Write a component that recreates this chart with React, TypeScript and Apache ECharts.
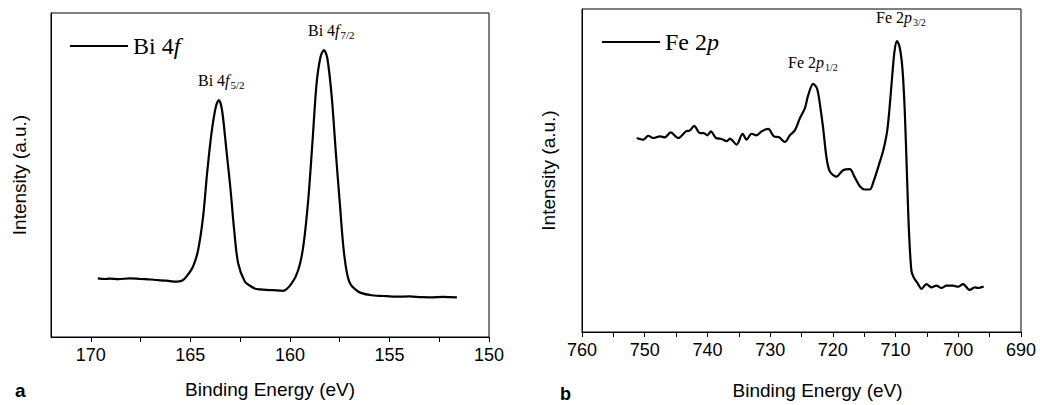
import React, { useEffect, useRef } from "react";
import * as echarts from "echarts";

// Bi 4f spectrum (binding energy in eV, intensity in a.u.)
const BI_ENERGY = [
  169.65, 169.3, 169.06, 168.6, 168.05, 167.5, 167.0, 166.71, 166.2, 165.7, 165.4, 165.2,
  164.87, 164.61, 164.36, 164.16, 163.94, 163.72, 163.57, 163.41, 163.19, 162.98, 162.8,
  162.6, 162.26, 161.95, 161.68, 161.2, 160.84, 160.35, 159.91, 159.58, 159.33, 159.08,
  158.86, 158.66, 158.46, 158.29, 158.12, 157.9, 157.69, 157.48, 157.28, 157.02, 156.56,
  155.98, 155.3, 154.63, 154.0, 153.4, 152.95, 152.3, 151.61,
];
const BI_INTENSITY = [
  58.7, 58.0, 58.3, 57.8, 58.7, 58.0, 57.5, 57.0, 56.3, 55.3, 56.5, 60.3,
  70.3, 87.0, 120.3, 163.7, 203.7, 230.3, 237.0, 227.0, 187.0, 147.0, 107.0,
  73.7, 55.3, 50.5, 48.0, 47.2, 46.8, 46.2, 53.7, 67.0, 90.3, 137.0,
  197.0, 253.7, 280.3, 287.0, 278.7, 240.3, 183.7, 130.3, 83.7, 55.3, 45.3,
  42.0, 41.0, 40.3, 40.6, 39.8, 39.7, 40.2, 39.7,
];

// Fe 2p spectrum
const FE_ENERGY = [
  751.28, 750.23, 749.44, 748.64, 747.57, 746.77, 745.87, 744.66, 743.43, 742.79, 742.11,
  741.2, 740.56, 740.03, 739.45, 738.65, 737.74, 736.94, 736.42, 735.35, 734.39, 733.76,
  732.96, 732.16, 731.37, 730.32, 729.41, 728.56, 727.65, 726.86, 726.06, 725.26, 724.47,
  723.94, 723.15, 722.51, 721.97, 721.55, 721.01, 720.48, 719.42, 718.37, 717.3, 716.5,
  715.7, 714.91, 714.11, 713.47, 712.63, 711.99, 711.35, 710.92, 710.49, 710.13, 709.76,
  709.33, 708.9, 708.53, 708.17, 707.85, 707.47, 707.1, 706.41, 705.87, 705.08, 704.28,
  703.48, 702.69, 701.89, 700.84, 700.04, 699.24, 698.18, 697.38, 696.86, 695.95,
];
const FE_INTENSITY = [
  197.0, 195.3, 199.3, 197.0, 198.7, 197.7, 202.7, 197.0, 203.7, 204.7, 209.3,
  202.0, 202.0, 199.7, 203.7, 197.0, 196.0, 193.7, 196.3, 190.3, 201.3, 195.3,
  201.3, 199.7, 203.7, 206.3, 198.7, 197.7, 193.0, 199.7, 204.7, 217.0, 227.0,
  240.3, 252.0, 247.0, 227.0, 207.0, 177.0, 163.0, 157.7, 164.3, 165.3, 157.0,
  148.0, 144.7, 144.7, 153.7, 170.3, 183.7, 203.7, 230.3, 263.7, 287.0, 295.3,
  288.7, 267.0, 223.7, 157.0, 100.3, 62.0, 55.3, 48.7, 43.7, 48.7, 45.3,
  47.0, 44.7, 47.0, 47.0, 46.0, 48.7, 42.7, 45.3, 44.7, 46.3,
];

// tick labels and tick marks
const BI_TICKS = [150, 155, 160, 165, 170];
const BI_TICK_MARKS = [150, 152.5, 155, 157.5, 160, 162.5, 165, 167.5, 170];
const FE_TICKS = [690, 700, 710, 720, 730, 740, 750, 760];
const FE_TICK_MARKS = [690, 695, 700, 705, 710, 715, 720, 725, 730, 735, 740, 745, 750, 755, 760];

const SANS = "Liberation Sans, Arial, sans-serif";
const SERIF = "Liberation Serif, Times New Roman, serif";

const zip = (xs: number[], ys: number[]) => xs.map((x, i) => [x, ys[i]]);

const serifRich = (size: number, sub: number) => ({
  r: { fontFamily: SERIF, fontSize: size, lineHeight: size + 3, color: "#000" },
  i: { fontFamily: SERIF, fontSize: size, fontStyle: "italic", lineHeight: size + 3, color: "#000" },
  s: {
    fontFamily: SERIF,
    fontSize: sub,
    lineHeight: 8,
    verticalAlign: "bottom",
    color: "#000",
    padding: [0, 0, 0, 1],
  },
});

export default function App() {
  const ref = useRef<HTMLDivElement>(null);
  useEffect(() => {
    if (!ref.current) return;
    const chart = echarts.init(ref.current, null, { renderer: "svg" });

    const xAxisBase = (
      min: number,
      max: number,
      interval: number,
      ticks: number[],
      marks: number[],
      nameShift: number,
      gap: number
    ) => ({
      type: "value",
      min,
      max,
      interval,
      inverse: true,
      name: "Binding Energy (eV)",
      nameLocation: "middle",
      nameGap: gap,
      nameTextStyle: {
        fontFamily: SANS,
        fontSize: 19,
        color: "#000",
        padding: [0, 0, 0, nameShift],
      },
      axisLine: { show: true, lineStyle: { color: "#000", width: 1 } },
      axisTick: { show: true, length: 5, customValues: marks, lineStyle: { color: "#000", width: 1 } },
      axisLabel: {
        fontFamily: SANS,
        fontSize: 18,
        color: "#000",
        margin: 9,
        customValues: ticks,
        formatter: (v: number) => (ticks.includes(v) ? String(v) : ""),
      },
      splitLine: { show: false },
    });

    const yAxisBase = (max: number, gap: number) => ({
      type: "value",
      min: 0,
      max,
      name: "Intensity (a.u.)",
      nameLocation: "middle",
      nameGap: gap,
      nameTextStyle: { fontFamily: SANS, fontSize: 19, color: "#000" },
      axisLine: { show: true, lineStyle: { color: "#000", width: 1 } },
      axisTick: { show: false },
      axisLabel: { show: false },
      splitLine: { show: false },
    });

    chart.setOption({
      animation: false,
      backgroundColor: "#fff",
      grid: [
        { left: 51, top: 13, width: 438, height: 324, show: true, borderColor: "#000", borderWidth: 1 },
        { left: 582, top: 9, width: 439, height: 328, show: true, borderColor: "#000", borderWidth: 1 },
      ],
      xAxis: [
        { ...xAxisBase(150, 172, 2.5, BI_TICKS, BI_TICK_MARKS, 0, 43), gridIndex: 0 },
        { ...xAxisBase(690, 760, 5, FE_TICKS, FE_TICK_MARKS, 32, 49), gridIndex: 1 },
      ],
      yAxis: [
        { ...yAxisBase(324, 22), gridIndex: 0 },
        { ...yAxisBase(328, 24), gridIndex: 1 },
      ],
      legend: [
        {
          data: ["Bi 4f"],
          left: 70,
          top: 34,
          padding: 0,
          icon: "rect",
          itemWidth: 58,
          itemHeight: 2,
          formatter: () => "{r|Bi 4}{i|f}",
          textStyle: { rich: serifRich(24, 14) },
        },
        {
          data: ["Fe 2p"],
          left: 602,
          top: 30,
          padding: 0,
          icon: "rect",
          itemWidth: 58,
          itemHeight: 2,
          formatter: () => "{r|Fe 2}{i|p}",
          textStyle: { rich: serifRich(24, 14) },
        },
      ],
      series: [
        {
          name: "Bi 4f",
          type: "line",
          xAxisIndex: 0,
          yAxisIndex: 0,
          data: zip(BI_ENERGY, BI_INTENSITY),
          smooth: 0.3,
          symbol: "none",
          lineStyle: { color: "#000", width: 2.2 },
          itemStyle: { color: "#000" },
        },
        {
          name: "Fe 2p",
          type: "line",
          xAxisIndex: 1,
          yAxisIndex: 1,
          data: zip(FE_ENERGY, FE_INTENSITY),
          smooth: 0.3,
          symbol: "none",
          lineStyle: { color: "#000", width: 2.2 },
          itemStyle: { color: "#000" },
        },
      ],
      graphic: [
        {
          type: "text",
          x: 198,
          y: 71,
          style: { text: "{r|Bi 4}{i|f}{s|5/2}", rich: serifRich(16, 11), verticalAlign: "top" },
        },
        {
          type: "text",
          x: 308,
          y: 21,
          style: { text: "{r|Bi 4}{i|f}{s|7/2}", rich: serifRich(16, 11), verticalAlign: "top" },
        },
        {
          type: "text",
          x: 788,
          y: 53,
          style: { text: "{r|Fe 2}{i|p}{s|1/2}", rich: serifRich(16, 10), verticalAlign: "top" },
        },
        {
          type: "text",
          x: 876,
          y: 8,
          style: { text: "{r|Fe 2}{i|p}{s|3/2}", rich: serifRich(16, 10), verticalAlign: "top" },
        },
        {
          type: "text",
          x: 15,
          y: 390,
          style: { text: "a", fontFamily: SANS, fontSize: 19, fontWeight: "bold", fill: "#000", verticalAlign: "middle" },
        },
        {
          type: "text",
          x: 560,
          y: 394,
          style: { text: "b", fontFamily: SANS, fontSize: 18, fontWeight: "bold", fill: "#000", verticalAlign: "middle" },
        },
      ],
    });
    return () => chart.dispose();
  }, []);
  return <div ref={ref} style={{ position: "fixed", left: 0, top: 0, width: 1040, height: 405 }} />;
}
